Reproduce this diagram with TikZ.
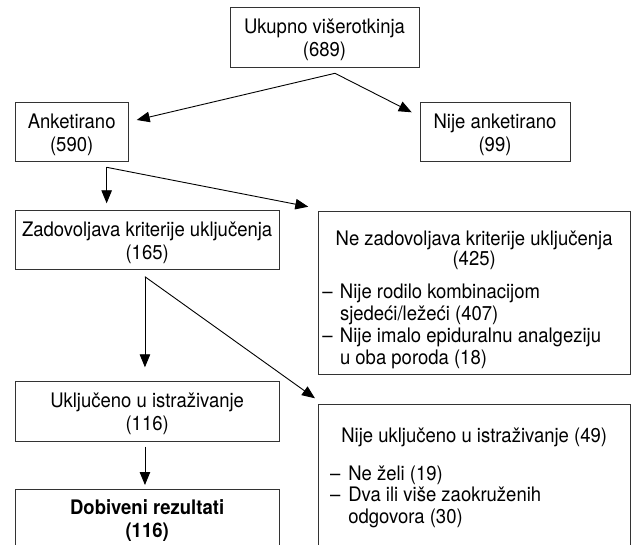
\documentclass[tikz,border=0pt]{standalone}
\usepackage{fontspec}
\setmainfont{TeX Gyre Heros}[FakeStretch=0.925]
\usetikzlibrary{arrows.meta,calc}
\newcommand{\cbx}[4]{\parbox[c][#2][t]{#1}{\centering\rule{0pt}{#3}#4\par}}
\tikzset{
  box/.style={draw=black!80, line width=1pt, inner sep=0pt, outer sep=0pt, anchor=north west,
    font=\fontsize{20pt}{21.7pt}\selectfont, text=black},
  arr/.style={draw=black, line width=0.9pt, -{Triangle[length=13pt,width=10.5pt]}}
}
\begin{document}
\begin{tikzpicture}[x=1pt,y=-1pt]
\useasboundingbox (0,0) rectangle (635,545);
\clip (0,0) rectangle (635,545);
\fill[white] (0,0) rectangle (635,545);

\node[box] (top) at (230,7.3) {\cbx{189pt}{60.2pt}{26pt}{Ukupno višerotkinja\\[1.3pt](689)}};
\node[box] (anket) at (15,102.3) {\cbx{113.3pt}{59.4pt}{26pt}{Anketirano\\[1.3pt](590)}};
\node[box] (nije) at (420,102.7) {\cbx{150pt}{59pt}{26pt}{Nije anketirano\\[1.3pt](99)}};
\node[box] (zad) at (15,211) {\cbx{264.3pt}{59pt}{26pt}{Zadovoljava kriterije uključenja\\[1.3pt](165)}};
\node[box] (nezad) at (318.3,211.7) {\parbox[c][163.3pt][t]{311.7pt}{\centering\rule{0pt}{34.3pt}Ne zadovoljava kriterije uključenja\\[-1.7pt](425)\par
  \vspace{11.3pt}\raggedright
  \hspace*{4pt}\makebox[17.7pt][l]{–}Nije rodilo kombinacijom\\
  \hspace*{21.7pt}sjedeći/ležeći (407)\\
  \hspace*{4pt}\makebox[17.7pt][l]{–}Nije imalo epiduralnu analgeziju\\
  \hspace*{21.7pt}u oba poroda (18)\par}};
\node[box] (uklj) at (15,381.7) {\cbx{264.3pt}{60pt}{26pt}{Uključeno u istraživanje\\[1.3pt](116)}};
\node[box] (dob) at (15,489.3) {\cbx{264.3pt}{58pt}{25pt}{\bfseries Dobiveni rezultati\\[1pt](116)}};
\node[box] (nijeukl) at (318.3,405) {\parbox[c][150pt][t]{311.7pt}{\centering\rule{0pt}{37.3pt}Nije uključeno u istraživanje (49)\par
  \vspace{16pt}\raggedright
  \hspace*{11.7pt}\makebox[18.3pt][l]{–}Ne želi (19)\\
  \hspace*{11.7pt}\makebox[18.3pt][l]{–}Dva ili više zaokruženih\\
  \hspace*{30pt}odgovora (30)\par}};

\coordinate (topout) at ($(top.south)+(10.5,5.8)$);
\coordinate (anketout) at ($(anket.south)+(35,5.6)$);
\coordinate (zadout) at ($(zad.south)+(-2.2,6.7)$);
\coordinate (uklout) at ($(uklj.south)+(-2.2,5)$);

\draw[arr] (topout) -- ($(anket.east)+(8.4,-12)$);
\draw[arr] (topout) -- ($(nije.west)+(-8.3,-19.9)$);
\draw[arr, shorten >=7.7pt] (anketout) -- (anketout |- zad.north);
\draw[arr] (anketout) -- ($(nezad.north west)+(-10,-5)$);
\draw[arr, shorten >=14.4pt] (zadout) -- (zadout |- uklj.north);
\draw[arr] (zadout) -- ($(nijeukl.north west)+(-3.3,-6.7)$);
\draw[arr, shorten >=4.3pt] (uklout) -- (uklout |- dob.north);
\end{tikzpicture}
\end{document}
